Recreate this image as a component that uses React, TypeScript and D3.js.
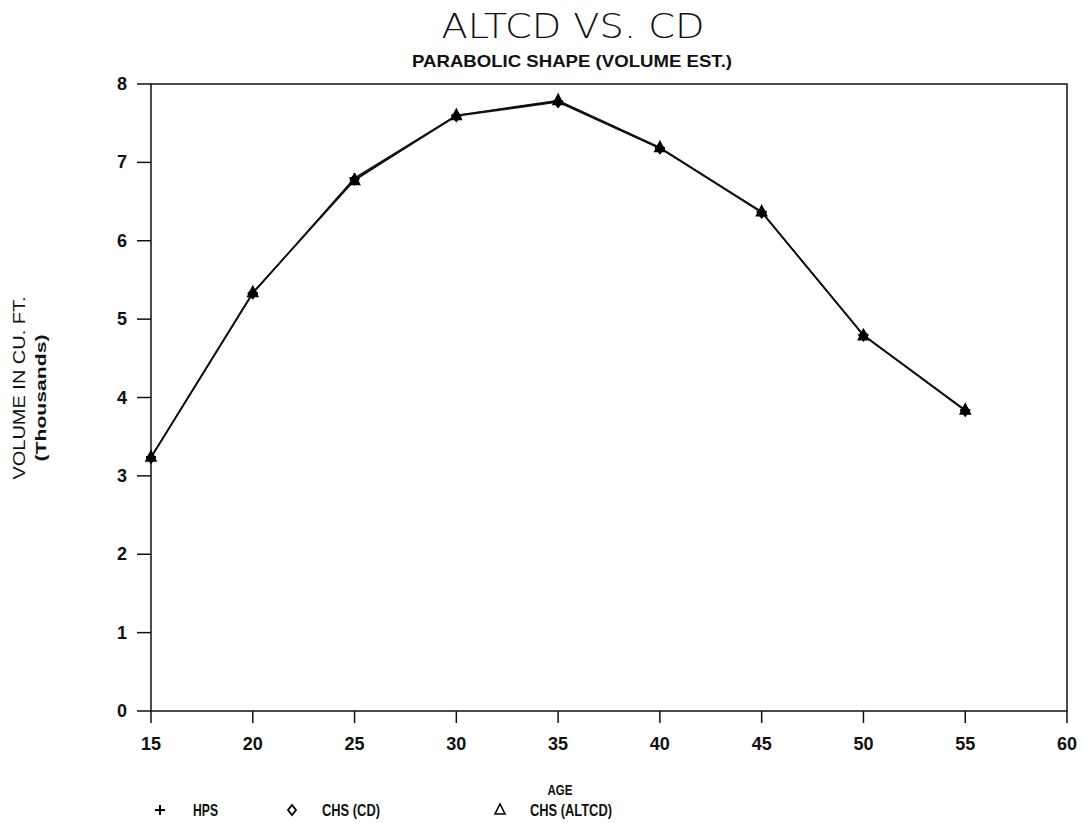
import React from "react";
import * as d3 from "d3";

const ages = [15, 20, 25, 30, 35, 40, 45, 50, 55];
const hps = [3.24, 5.33, 6.8, 7.6, 7.78, 7.18, 6.37, 4.8, 3.84];
const chsCD = [3.23, 5.33, 6.78, 7.59, 7.77, 7.18, 6.36, 4.79, 3.83];
const chsALTCD = [3.24, 5.34, 6.77, 7.6, 7.79, 7.19, 6.37, 4.79, 3.84];
const xTicks = [15, 20, 25, 30, 35, 40, 45, 50, 55, 60];
const yTicks = [0, 1, 2, 3, 4, 5, 6, 7, 8];
const legendLabels = ["HPS", "CHS (CD)", "CHS (ALTCD)"];

const W = 1084, H = 823;
const M = { left: 151, right: 1067, top: 84, bottom: 711 };

export default function App() {
  const x = d3.scaleLinear().domain([15, 60]).range([M.left, M.right]);
  const y = d3.scaleLinear().domain([0, 8]).range([M.bottom, M.top]);
  const line = d3
    .line<number>()
    .x((_, i) => x(ages[i]))
    .y((d) => y(d));
  const font = "'Liberation Sans', Arial, sans-serif";
  const series = [hps, chsCD, chsALTCD];

  const plus = (cx: number, cy: number, k: string) => (
    <path key={k} d={`M${cx - 5},${cy}H${cx + 5}M${cx},${cy - 5}V${cy + 5}`} stroke="#000" strokeWidth={2} fill="none" />
  );
  const diamond = (cx: number, cy: number, k: string, fill = "#000") => (
    <path key={k} d={`M${cx},${cy - 5}L${cx + 4},${cy}L${cx},${cy + 5}L${cx - 4},${cy}Z`} stroke="#000" strokeWidth={1.8} fill={fill} />
  );
  const tri = (cx: number, cy: number, k: string, fill = "#000") => (
    <path key={k} d={`M${cx},${cy - 6}L${cx + 5},${cy + 4}L${cx - 5},${cy + 4}Z`} stroke="#000" strokeWidth={1.6} fill={fill} />
  );

  return (
    <svg width={W} height={H} style={{ position: "absolute", left: 0, top: 0, background: "#fff" }}>
      <rect x={0} y={0} width={W} height={H} fill="#fff" />
      <text x={573} y={38} textAnchor="middle" fontFamily="'DejaVu Sans', sans-serif" fontWeight={200} fontSize={34} textLength={263} lengthAdjust="spacingAndGlyphs" fill="#111">
        ALTCD VS. CD
      </text>
      <text x={572} y={67} textAnchor="middle" fontFamily={font} fontWeight="bold" fontSize={17} textLength={320} lengthAdjust="spacingAndGlyphs" fill="#111">
        PARABOLIC SHAPE (VOLUME EST.)
      </text>

      {/* frame */}
      <rect x={M.left} y={M.top} width={M.right - M.left} height={M.bottom - M.top} fill="none" stroke="#111" strokeWidth={1.5} />

      {/* y ticks */}
      {yTicks.map((t) => (
        <g key={"y" + t}>
          <line x1={M.left - 14} x2={M.left} y1={y(t)} y2={y(t)} stroke="#111" strokeWidth={1.5} />
          <text x={127} y={y(t) + 6} textAnchor="end" fontFamily={font} fontWeight="bold" fontSize={18} fill="#111">
            {t}
          </text>
        </g>
      ))}
      {/* x ticks */}
      {xTicks.map((t) => (
        <g key={"x" + t}>
          <line x1={x(t)} x2={x(t)} y1={M.bottom} y2={M.bottom + 12} stroke="#111" strokeWidth={1.5} />
          <text x={x(t)} y={750} textAnchor="middle" fontFamily={font} fontWeight="bold" fontSize={18} fill="#111">
            {t}
          </text>
        </g>
      ))}

      <text x={560} y={795} textAnchor="middle" fontFamily={font} fontWeight="bold" fontSize={14} fill="#111" textLength={25} lengthAdjust="spacingAndGlyphs">
        AGE
      </text>

      <text transform="translate(25,388) rotate(-90)" textAnchor="middle" fontFamily={font} fontSize={17} fill="#111" textLength={183} lengthAdjust="spacingAndGlyphs">
        VOLUME IN CU. FT.
      </text>
      <text transform="translate(46,398) rotate(-90)" textAnchor="middle" fontFamily={font} fontWeight="bold" fontSize={15} fill="#111" textLength={127} lengthAdjust="spacingAndGlyphs">
        (Thousands)
      </text>

      {/* lines */}
      {series.map((s, i) => (
        <path key={"l" + i} d={line(s) || ""} fill="none" stroke="#111" strokeWidth={1.4} />
      ))}
      {/* markers */}
      {ages.map((a, i) => plus(x(a), y(hps[i]), "p" + i))}
      {ages.map((a, i) => diamond(x(a), y(chsCD[i]), "d" + i))}
      {ages.map((a, i) => tri(x(a), y(chsALTCD[i]), "t" + i))}

      {/* legend */}
      {plus(160, 810, "lp")}
      <text x={193} y={816} fontFamily={font} fontWeight="bold" fontSize={17} fill="#111" textLength={25} lengthAdjust="spacingAndGlyphs">{legendLabels[0]}</text>
      {diamond(292, 810, "ld", "#fff")}
      <text x={322} y={816} fontFamily={font} fontWeight="bold" fontSize={17} fill="#111" textLength={58} lengthAdjust="spacingAndGlyphs">{legendLabels[1]}</text>
      {tri(500, 810, "lt", "#fff")}
      <text x={530} y={816} fontFamily={font} fontWeight="bold" fontSize={17} fill="#111" textLength={82} lengthAdjust="spacingAndGlyphs">{legendLabels[2]}</text>
    </svg>
  );
}
